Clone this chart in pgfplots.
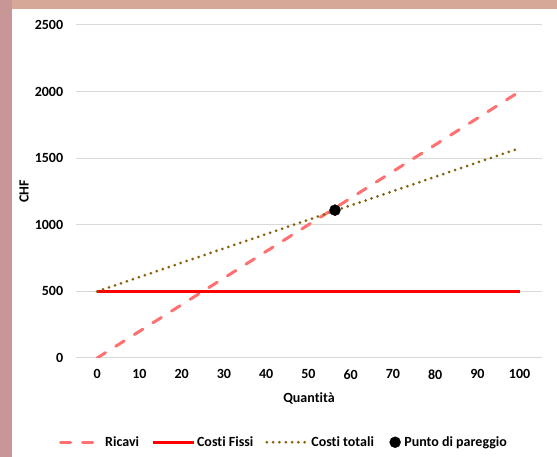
\documentclass[border=0pt]{standalone}
\usepackage{fontspec}
\setmainfont{Carlito}[Ligatures=NoCommon]
\usepackage{pgfplots}
\pgfplotsset{compat=1.18}
\definecolor{ricavi}{RGB}{255,112,112}
\definecolor{fissi}{RGB}{255,0,0}
\definecolor{totali}{RGB}{133,98,10}
\definecolor{gridc}{RGB}{217,217,217}
\definecolor{bgl}{RGB}{200,150,150}
\definecolor{bgt}{RGB}{214,168,152}
\newcommand{\cf}{\fontsize{14}{17}\selectfont\bfseries}
\pgfplotsset{marklegend/.style={legend image code/.code={\path (0pt,0pt) (16pt,0pt);\draw[##1] plot coordinates {(9pt,0pt)};}}}
\begin{document}
\begin{tikzpicture}[x=1pt,y=1pt]
\fill[bgt] (0,0) rectangle (557,457);
\fill[bgl] (0,0) rectangle (12,457);
\fill[white] (12,0) rectangle (557,448);
\begin{axis}[
  at={(76pt,99pt)}, anchor=south west,
  scale only axis, width=466pt, height=333pt,
  xmin=-5, xmax=105.3, ymin=0, ymax=2500,
  xtick={0,10,...,100}, ytick={0,500,...,2500},
  ymajorgrids, grid style={gridc, line width=1pt},
  axis line style={draw=none}, major tick length=0pt, tick style={draw=none},
  /pgf/number format/assume math mode=true, /pgf/number format/1000 sep={},
  tick label style={font=\cf},
  yticklabel style={xshift=-9.3pt},
  xticklabel style={yshift=-8pt},
  xlabel={Quantità}, ylabel={CHF},
  label style={font=\cf},
  xlabel style={at={(axis description cs:0.5,-0.123)}, anchor=center},
  ylabel style={at={(axis description cs:-0.1116,0.5)}, anchor=center},
  legend columns=-1,
  legend style={at={(axis description cs:0.4464,-0.253)}, anchor=center, draw=none, fill=none, font=\cf,
    /tikz/every even column/.append style={column sep=10pt}},
  legend cell align=left,
  legend image code/.code={\draw[#1] (0pt,0pt) -- (41pt,0pt);},
]
\addplot[ricavi, line width=3pt, line cap=round, dash pattern=on 10pt off 12pt] coordinates {
 (0,0) (10,200) (20,400) (30,600) (40,800) (50,1000) (60,1200) (70,1400) (80,1600) (90,1800) (100,2000)};
\addlegendentry{Ricavi}
\addplot[fissi, line width=3pt] coordinates {
 (0,500) (10,500) (20,500) (30,500) (40,500) (50,500) (60,500) (70,500) (80,500) (90,500) (100,500)};
\addlegendentry{Costi Fissi}
\addplot[totali, line width=3pt, line cap=round, dash pattern=on 0pt off 6.3pt] coordinates {
 (0,500) (10,607.5) (20,715) (30,822.5) (40,930) (50,1037.5) (60,1145) (70,1252.5) (80,1360) (90,1467.5) (100,1575)};
\addlegendentry{Costi totali}
\addplot[only marks, mark=*, mark size=5.5pt, black, marklegend] coordinates {(56.3,1110)};
\addlegendentry{Punto di pareggio}
\end{axis}
\pgfresetboundingbox
\path[use as bounding box] (0,0) rectangle (557,457);
\end{tikzpicture}
\end{document}
